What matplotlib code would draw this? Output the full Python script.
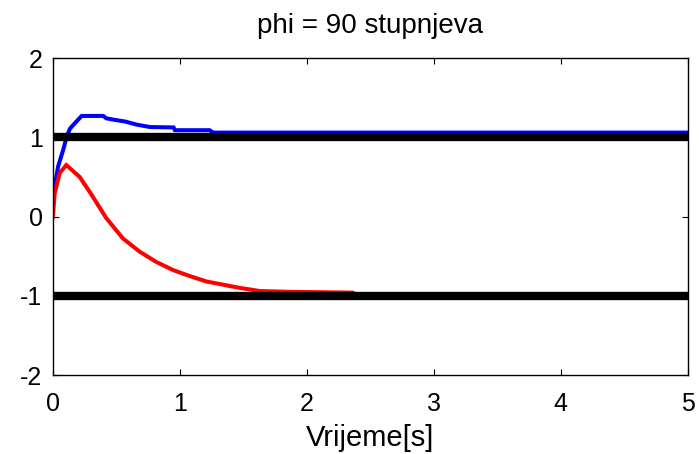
import numpy as np
import matplotlib
matplotlib.use("Agg")
import matplotlib.pyplot as plt

# DATA
t_blue = [0.0, 0.04, 0.08, 0.108, 0.134, 0.173, 0.226, 0.396, 0.42, 0.488,
          0.567, 0.66, 0.764, 0.95, 0.96, 1.234, 1.26, 5.0]
v_blue = [0.25, 0.63, 0.84, 1.01, 1.11, 1.18, 1.27, 1.27, 1.24, 1.22,
          1.20, 1.16, 1.13, 1.125, 1.09, 1.09, 1.06, 1.06]

t_red = [0.0, 0.013, 0.053, 0.105, 0.21, 0.29, 0.42, 0.55, 0.68, 0.81,
         0.945, 1.075, 1.21, 1.34, 1.47, 1.63, 1.865, 2.36, 2.4, 5.0]
v_red = [0.0, 0.29, 0.55, 0.65, 0.50, 0.31, -0.02, -0.275, -0.44, -0.57,
         -0.675, -0.75, -0.82, -0.86, -0.90, -0.94, -0.95, -0.96, -1.0, -1.0]

limits = [1, -1]
t_range = [0, 5]

plt.rcParams['font.family'] = ['Liberation Sans', 'DejaVu Sans']
plt.rcParams['axes.unicode_minus'] = False

fig = plt.figure(figsize=(6.99, 4.54), dpi=100)
ax = fig.add_axes([0.0758, 0.174, 0.9082, 0.698])

ax.plot(t_blue, v_blue, color='#0000ff', lw=2.9, solid_joinstyle='miter')
ax.plot(t_red, v_red, color='#ff0000', lw=2.9, solid_joinstyle='miter')
for lv in limits:
    ax.plot(t_range, [lv, lv], color='black', lw=6)

ax.set_xlim(0, 5)
ax.set_ylim(-2, 2)
ax.set_xticks(range(0, 6))
ax.set_yticks(range(-2, 3))
ax.tick_params(direction='in', length=4, width=0.8, labelsize=18,
               top=True, right=True)
ax.tick_params(axis='x', pad=12)
ax.tick_params(axis='y', pad=7.5)
for s in ax.spines.values():
    s.set_linewidth(1.0)

ax.set_title('phi = 90 stupnjeva', fontsize=20, pad=18)
ax.set_xlabel('Vrijeme[s]', fontsize=21, labelpad=6)

fig.savefig('out.png', dpi=100)
